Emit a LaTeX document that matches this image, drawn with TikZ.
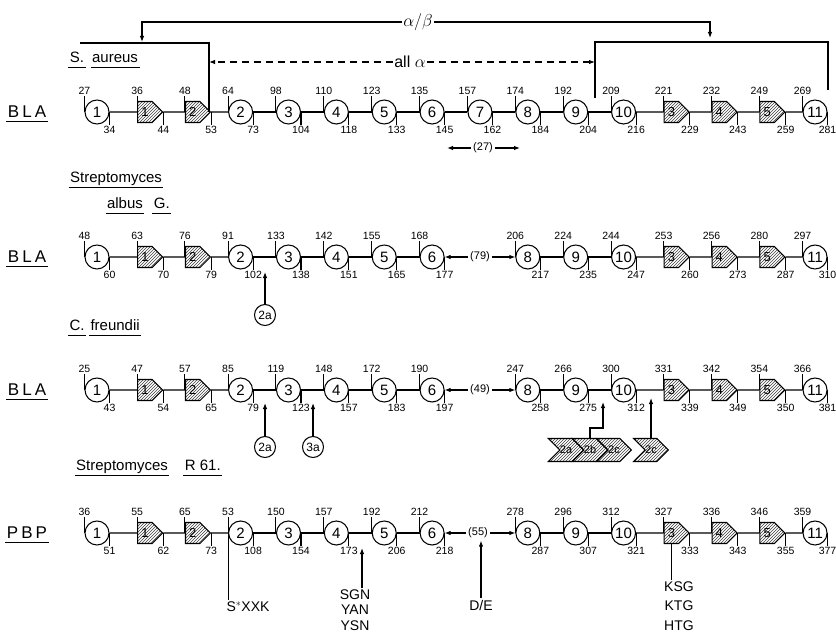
\documentclass[tikz,border=0pt]{standalone}
\usepackage{fontspec}
\setmainfont{Liberation Sans}
\newfontfamily\spacedfont{Liberation Sans}[LetterSpace=18]
\usetikzlibrary{
  arrows.meta,
  positioning,
  shapes.symbols,
  patterns
}

% one row of domains: #1 row id, #2 y, #3 list i/style/label/start/end
\newcommand\elrow[3]{%
  \foreach \i/\st/\el/\tp/\bt in {#3}{
    \node[\st] (r#1e\i) at ({97+(\i-1)*47.87},#2) {\el};
    \draw (r#1e\i.west) -- ++(0,-16) node[above,numlab]{\tp};
    \draw (r#1e\i.east) -- ++(0,13) node[below,numlab]{\bt};
  }%
}

\begin{document}
\begin{tikzpicture}[
    x=1pt,y=-1pt,
    >={Latex[length=6pt,width=4.5pt]},
    line width=1.05pt,
    circ/.style={circle,draw,minimum size=24pt,inner sep=0pt,
      font=\fontsize{15}{15}\selectfont},
    pent/.style={shape=signal,signal to=east,draw,
      pattern=north east lines,pattern color=black!75,
      minimum width=25pt,minimum height=21pt,inner sep=0pt,
      font=\fontsize{13}{13}\selectfont},
    chev/.style={shape=signal,signal from=west,signal to=east,draw,
      pattern=north east lines,pattern color=black!75,
      minimum width=23pt,minimum height=23pt,inner sep=0pt,
      font=\fontsize{11}{11}\selectfont},
    small/.style={circle,draw,minimum size=21pt,inner sep=0pt,
      font=\fontsize{12}{12}\selectfont},
    numlab/.style={font=\fontsize{10.5}{11}\selectfont,inner sep=1pt},
    gap/.style={font=\fontsize{11}{11}\selectfont,inner sep=2pt},
    rowlab/.style={font=\spacedfont\fontsize{17}{17}\selectfont,inner sep=1pt},
    spec/.style={font=\fontsize{15}{15}\selectfont,inner sep=1pt},
    motif/.style={font=\fontsize{14}{14}\selectfont,inner sep=1pt},
    ul/.style={line width=1.1pt}
    ]

    \useasboundingbox (0,0) rectangle (836,634);

    % row labels
    \node[rowlab] (bla1) at (27,112) {BLA};
    \node[rowlab] (bla2) at (27,257) {BLA};
    \node[rowlab] (bla3) at (27,390) {BLA};
    \node[rowlab] (pbp4) at (27,533) {PBP};
    \foreach \n in {bla1,bla2,bla3,pbp4}
      \draw[line width=1.4pt] ([yshift=-2pt]\n.south west) -- ([yshift=-2pt]\n.south east);

    % species
    \node[spec] (sp1a) at (77,57) {S.};
    \node[spec,base right=5pt of sp1a] (sp1b) {aureus};
    \node[spec] (sp2a) at (116,179) {Streptomyces};
    \node[spec] (sp2b) at (125,203) {albus};
    \node[spec,base right=8pt of sp2b] (sp2c) {G.};
    \node[spec] (sp3a) at (77,325) {C.};
    \node[spec,base right=3pt of sp3a] (sp3b) {freundii};
    \node[spec] (sp4a) at (122,467) {Streptomyces};
    \node[spec,base right=14pt of sp4a] (sp4b) {R 61.};
    \foreach \n in {sp1a,sp1b,sp2a,sp2b,sp2c,sp3a,sp3b,sp4a,sp4b}
      \draw[ul] ([yshift=-5pt]\n.base west) -- ([yshift=-5pt]\n.base east);

    % S. aureus BLA
    \elrow{1}{112}{1/circ/1/27/34, 2/pent/1/36/44, 3/pent/2/48/53,
      4/circ/2/64/73, 5/circ/3/98/104, 6/circ/4/110/118,
      7/circ/5/123/133, 8/circ/6/135/145, 9/circ/7/157/162,
      10/circ/8/174/184, 11/circ/9/192/204, 12/circ/10/209/216,
      13/pent/3/221/229, 14/pent/4/232/243, 15/pent/5/249/259,
      16/circ/11/269/281}
    \foreach \a [count=\b from 2] in {1,...,15}
      \draw (r1e\a) -- (r1e\b);

    % Streptomyces albus G. BLA
    \elrow{2}{257}{1/circ/1/48/60, 2/pent/1/63/70, 3/pent/2/76/79,
      4/circ/2/91/102, 5/circ/3/133/138, 6/circ/4/142/151,
      7/circ/5/155/165, 8/circ/6/168/177, 10/circ/8/206/217,
      11/circ/9/224/235, 12/circ/10/244/247, 13/pent/3/253/260,
      14/pent/4/256/273, 15/pent/5/280/287, 16/circ/11/297/310}
    \node[gap] (r2g) at (480,257) {(79)};

    % C. freundii BLA
    \elrow{3}{390}{1/circ/1/25/43, 2/pent/1/47/54, 3/pent/2/57/65,
      4/circ/2/85/79, 5/circ/3/119/123, 6/circ/4/148/157,
      7/circ/5/172/183, 8/circ/6/190/197, 10/circ/8/247/258,
      11/circ/9/266/275, 12/circ/10/300/312, 13/pent/3/331/339,
      14/pent/4/342/349, 15/pent/5/354/350, 16/circ/11/366/381}
    \node[gap] (r3g) at (480,390) {(49)};

    % Streptomyces R61 PBP
    \elrow{4}{533}{1/circ/1/36/51, 2/pent/1/55/62, 3/pent/2/65/73,
      4/circ/2/53/108, 5/circ/3/150/154, 6/circ/4/157/173,
      7/circ/5/192/206, 8/circ/6/212/218, 10/circ/8/278/287,
      11/circ/9/296/307, 12/circ/10/312/321, 13/pent/3/327/333,
      14/pent/4/336/343, 15/pent/5/346/355, 16/circ/11/359/377}
    \node[gap] (r4g) at (478,533) {(55)};

    \foreach \r in {2,3,4}{
      \foreach \a/\b in {1/2,2/3,3/4,4/5,5/6,6/7,7/8,
          10/11,11/12,12/13,13/14,14/15,15/16}
        \draw (r\r e\a) -- (r\r e\b);
      \draw[->] (r\r g) -- (r\r e8);
      \draw[->] (r\r g) -- (r\r e10);
    }

    % alpha/beta and all alpha brackets
    \node[spec,font=\fontsize{17}{17}\selectfont] (ab) at (418,22) {$\alpha/\beta$};
    \coordinate (sa) at (142,42);
    \coordinate (sb) at (710,38);
    \draw[->] (ab.west) -| (sa);
    \draw[->] (ab.east) -| (sb);
    \coordinate (bl) at (80,43);
    \coordinate (br) at (209,43);
    \draw (bl) -- (br) -- (br |- r1e3);
    \coordinate (cl) at (595,42);
    \coordinate (cr) at (828,42);
    \coordinate (cld) at (595,98);
    \coordinate (crd) at (828,90);
    \draw (cld) -- (cl) -- (cr) -- (crd);
    \node[spec,font=\fontsize{16}{16}\selectfont] (alla) at (410,62) {all $\alpha$};
    \draw[->,dash pattern=on 7pt off 5pt] (alla) -- (alla -| br);
    \draw[->,dash pattern=on 7pt off 5pt] (alla) -- (alla -| cl);

    % length of the 6-8 stretch
    \node[gap] (n27) at (483,148) {(27)};
    \coordinate (l27) at (447,148);
    \coordinate (r27) at (520,148);
    \draw[->] (n27) -- (l27);
    \draw[->] (n27) -- (r27);

    % inserts, row 2 and 3
    \node[small] (i2a) at (265,315) {2a};
    \coordinate (t2a) at (265,272);
    \draw[->] (i2a) -- (t2a);
    \node[small] (i3a) at (265,447) {2a};
    \coordinate (t3a) at (265,403);
    \draw[->] (i3a) -- (t3a);
    \node[small] (i3b) at (313,447) {3a};
    \coordinate (t3b) at (313,403);
    \draw[->] (i3b) -- (t3b);

    \node[chev] (c2a) at (566,450) {2a};
    \node[chev] (c2b) at (590,450) {2b};
    \node[chev] (c2c) at (614,450) {2c};
    \node[chev] (c2d) at (651,450) {2c};
    \coordinate (k1) at (603,402);
    \coordinate (k2) at (651,398);
    \draw[->] (c2b.north) -- ++(0,-10) -| (k1);
    \draw[->] (c2d.north) -- (k2);

    % PBP motifs
    \node[motif] (sxk) at (248,607) {S$^*$XXK};
    \draw (r4e4.west) -- (r4e4.west |- sxk.north);
    \node[motif,align=center,font=\fontsize{14}{15.5}\selectfont] (sgn) at (355,610)
      {SGN\\YAN\\YSN};
    \coordinate (m4) at (362,548);
    \draw[->] (sgn.north -| m4) -- (m4);
    \node[motif] (de) at (481,605) {D/E};
    \draw[->] (de.north) -- (de.north |- r4g.south);
    \node[motif,align=center,font=\fontsize{14}{19.5}\selectfont] (ksg) at (679,606)
      {KSG\\KTG\\HTG};
    \draw (r4e13.south) -- (r4e13.south |- ksg.north);

\end{tikzpicture}
\end{document}
